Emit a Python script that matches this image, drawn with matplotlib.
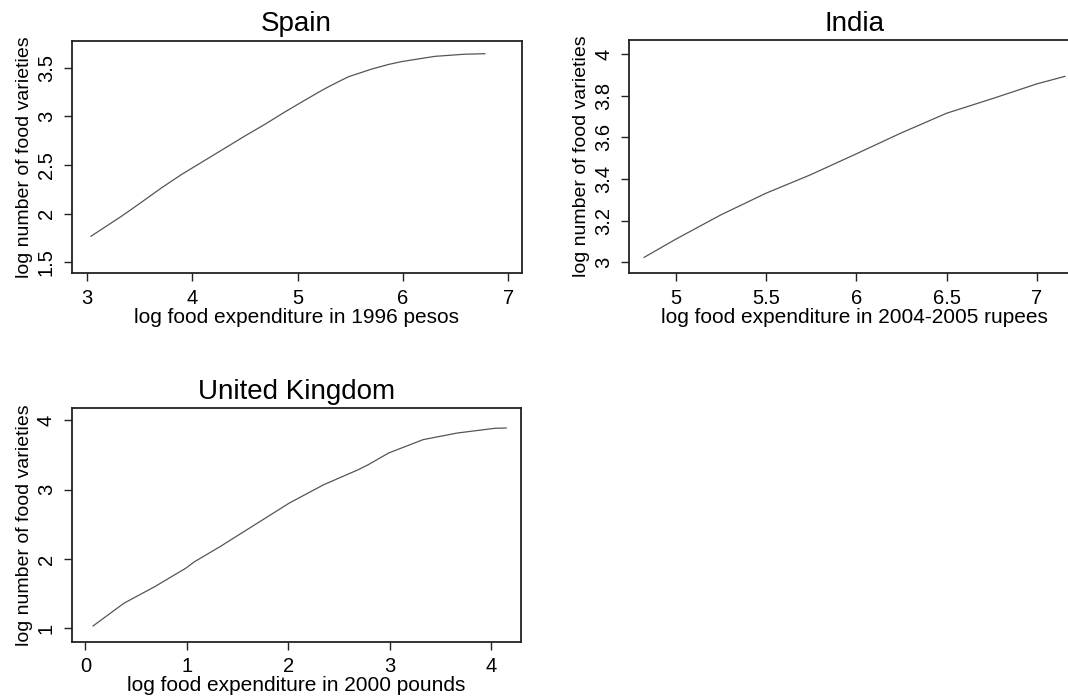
import matplotlib
matplotlib.use("Agg")
import matplotlib.pyplot as plt

plt.rcParams['font.family'] = ['Liberation Sans', 'DejaVu Sans']

# fitted curves: log food expenditure vs log number of food varieties
spain_x = [3.037, 3.328, 3.486, 3.708, 3.898, 4.119, 4.499, 4.689, 4.879, 5.069,
           5.227, 5.322, 5.481, 5.703, 5.86, 5.987, 6.304, 6.588, 6.778]
spain_y = [1.768, 1.974, 2.094, 2.266, 2.403, 2.548, 2.798, 2.918, 3.045, 3.166,
           3.265, 3.32, 3.406, 3.485, 3.532, 3.562, 3.616, 3.638, 3.643]

india_x = [4.825, 5.00, 5.25, 5.50, 5.745, 6.00, 6.245, 6.50, 6.76, 7.00, 7.155]
india_y = [3.024, 3.111, 3.228, 3.332, 3.420, 3.521, 3.620, 3.716, 3.788, 3.857, 3.893]

uk_x = [0.075, 0.38, 0.685, 0.99, 1.075, 1.33, 1.67, 2.01, 2.35, 2.69, 2.79, 2.99, 3.33, 3.67, 4.04, 4.15]
uk_y = [1.034, 1.362, 1.602, 1.867, 1.96, 2.18, 2.493, 2.806, 3.071, 3.287, 3.36, 3.528, 3.721, 3.817, 3.885, 3.889]

spain_xticks = [3, 4, 5, 6, 7]
spain_yticks = [1.5, 2, 2.5, 3, 3.5]
india_xticks = [5, 5.5, 6, 6.5, 7]
india_yticks = [3, 3.2, 3.4, 3.6, 3.8, 4]
uk_xticks = [0, 1, 2, 3, 4]
uk_yticks = [1, 2, 3, 4]

ylab = "log number of food varieties"


def fmt(v):
    return "%g" % v


def panel(rect, x, y, title, xlabel, xlim, ylim, xticks, yticks):
    ax = fig.add_axes(rect)
    ax.plot(x, y, color="#555555", lw=0.9)
    ax.set_xlim(*xlim)
    ax.set_ylim(*ylim)
    ax.set_xticks(xticks)
    ax.set_xticklabels([fmt(v) for v in xticks])
    ax.set_yticks(yticks)
    ax.set_yticklabels([fmt(v) for v in yticks], rotation=90, va="center")
    ax.tick_params(length=5.8, width=1.0, pad=5.5, labelsize=14.5, color="#222222")
    for s in ax.spines.values():
        s.set_linewidth(1.3)
        s.set_color("#222222")
    ax.set_title(title, fontsize=20, pad=7)
    ax.set_xlabel(xlabel, fontsize=15, labelpad=0)
    ax.set_ylabel(ylab, fontsize=14, labelpad=3)
    return ax


fig = plt.figure(figsize=(10.68, 7), dpi=100)

panel([0.0671, 0.6096, 0.4213, 0.3323], spain_x, spain_y, "Spain",
      "log food expenditure in 1996 pesos", (2.853, 7.127), (1.387, 3.777),
      spain_xticks, spain_yticks)
panel([0.5892, 0.61, 0.4213, 0.3324], india_x, india_y, "India",
      "log food expenditure in 2004-2005 rupees", (4.743, 7.234), (2.949, 4.066),
      india_xticks, india_yticks)
panel([0.0671, 0.0833, 0.421, 0.3334], uk_x, uk_y, "United Kingdom",
      "log food expenditure in 2000 pounds", (-0.136, 4.299), (0.807, 4.173),
      uk_xticks, uk_yticks)

fig.savefig("out.png", dpi=100)
